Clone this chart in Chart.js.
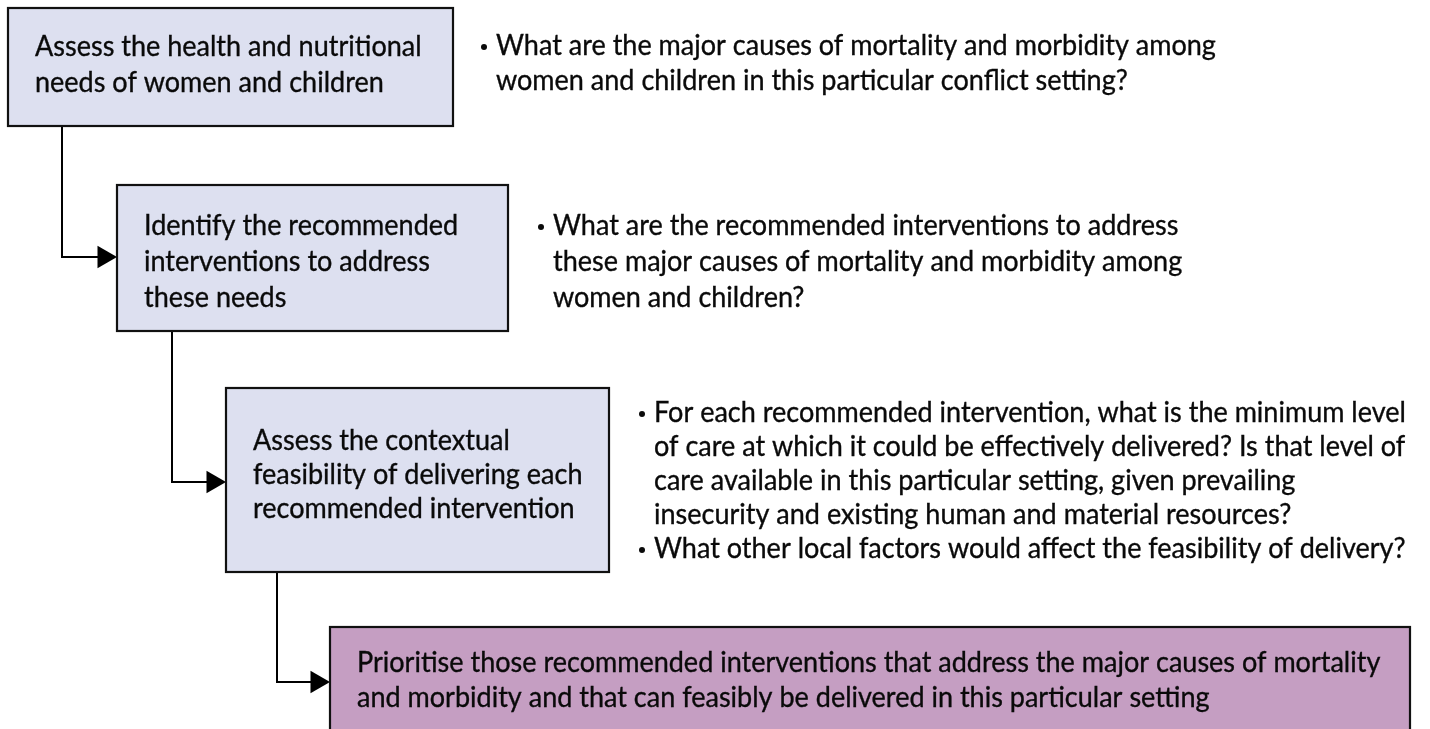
<!DOCTYPE html>
<html>
<head>
<meta charset="utf-8">
<script src="https://cdn.jsdelivr.net/npm/chart.js@4/dist/chart.umd.min.js"></script>
<style>
  html, body { margin: 0; padding: 0; background: #ffffff; }
  #wrap { width: 1430px; height: 729px; }
</style>
</head>
<body>
<div id="wrap"><canvas id="c" width="1430" height="729"></canvas></div>
<script>
// ---- data ----
const stepLabels = [
  ["Assess the health and nutritional", "needs of women and children"],
  ["Identify the recommended", "interventions to address", "these needs"],
  ["Assess the contextual", "feasibility of delivering each", "recommended intervention"],
  ["Prioritise those recommended interventions that address the major causes of mortality",
   "and morbidity and that can feasibly be delivered in this particular setting"]
];
const stepQuestions = [
  [["What are the major causes of mortality and morbidity among", "women and children in this particular conflict setting?"]],
  [["What are the recommended interventions to address", "these major causes of mortality and morbidity among", "women and children?"]],
  [["For each recommended intervention, what is the minimum level", "of care at which it could be effectively delivered? Is that level of",
    "care available in this particular setting, given prevailing", "insecurity and existing human and material resources?"],
   ["What other local factors would affect the feasibility of delivery?"]],
  []
];
const stepKinds = ["assess", "assess", "assess", "priority"];

// ---- layout (axis units) ----
const boxLeft   = [8, 117, 226, 330];
const boxTop    = [8, 185, 388, 627];
const boxRight  = [453, 508, 609, 1410];
const boxBottom = [126, 331, 572, 745];
const labelFirstBaseline = [56, 235, 450, 672];
const labelLineH = [36, 36, 34, 35];
const questionX = [480, 537, 638];
const questionFirstBaseline = [55, 235, 422];
const questionLineH = [35, 36, 34];
const connectorX = [62, 172, 277];
const arrowY = [257, 482, 682];

// ---- style ----
const FONT = "28px Lato";
const SX = 0.965;
const TEXT_COLOR = "#0a0a0a";
const fills = { assess: "#dde0f0", priority: "#c59ec2" };
const ARROW_R = 13;

// ---- datasets built from layout ----
const connectorSets = connectorX.map((cx, i) => ({
  type: "scatter",
  data: [{x: cx, y: boxBottom[i]}, {x: cx, y: arrowY[i]}, {x: boxLeft[i + 1] - 4, y: arrowY[i]}],
  showLine: true, borderColor: "#000", borderWidth: 2, pointRadius: 0, tension: 0, clip: false, order: 2
}));
const arrowSet = {
  type: "scatter",
  data: arrowY.map((ay, i) => ({x: boxLeft[i + 1] - ARROW_R, y: ay})),
  pointStyle: "triangle", rotation: 90, pointRadius: ARROW_R, pointHoverRadius: ARROW_R,
  backgroundColor: "#000", borderColor: "#000", borderWidth: 0, clip: false, order: 1
};

function drawText(ctx, txt, x, y) {
  ctx.save();
  ctx.translate(x, y);
  ctx.scale(SX, 1);
  ctx.fillText(txt, 0, 0);
  ctx.lineWidth = 0.35;
  ctx.strokeStyle = TEXT_COLOR;
  ctx.strokeText(txt, 0, 0);
  ctx.restore();
}

const flowPlugin = {
  id: "flow",
  afterDatasetsDraw(chart) {
    const ctx = chart.ctx, xs = chart.scales.x, ys = chart.scales.y;
    const px = v => xs.getPixelForValue(v), py = v => ys.getPixelForValue(v);
    ctx.save();
    ctx.font = FONT;
    ctx.textBaseline = "alphabetic";
    stepLabels.forEach((lines, i) => {
      const x0 = px(boxLeft[i]), y0 = py(boxTop[i]), x1 = px(boxRight[i]), y1 = py(boxBottom[i]);
      ctx.fillStyle = fills[stepKinds[i]];
      ctx.fillRect(x0, y0, x1 - x0, y1 - y0);
      ctx.lineWidth = 2.2;
      ctx.strokeStyle = "#111";
      ctx.strokeRect(x0, y0, x1 - x0, y1 - y0);
      ctx.fillStyle = TEXT_COLOR;
      lines.forEach((t, k) => drawText(ctx, t, px(boxLeft[i] + 27), py(labelFirstBaseline[i] + k * labelLineH[i])));
    });
    stepQuestions.forEach((bullets, i) => {
      let row = 0;
      bullets.forEach(lines => {
        const by = py(questionFirstBaseline[i] + row * questionLineH[i]);
        ctx.beginPath();
        ctx.arc(px(questionX[i] + 4), by - 8, 3, 0, Math.PI * 2);
        ctx.fillStyle = TEXT_COLOR;
        ctx.fill();
        lines.forEach(t => {
          drawText(ctx, t, px(questionX[i] + 16), py(questionFirstBaseline[i] + row * questionLineH[i]));
          row++;
        });
      });
    });
    ctx.restore();
  }
};

new Chart(document.getElementById("c"), {
  type: "scatter",
  data: { datasets: [...connectorSets, arrowSet] },
  options: {
    responsive: false,
    devicePixelRatio: 1,
    animation: false,
    events: [],
    layout: { padding: 0, autoPadding: false },
    plugins: { legend: { display: false }, tooltip: { enabled: false } },
    scales: {
      x: { type: "linear", min: 0, max: 1430, display: false },
      y: { type: "linear", min: 0, max: 729, reverse: true, display: false }
    }
  },
  plugins: [flowPlugin]
});
</script>
</body>
</html>
